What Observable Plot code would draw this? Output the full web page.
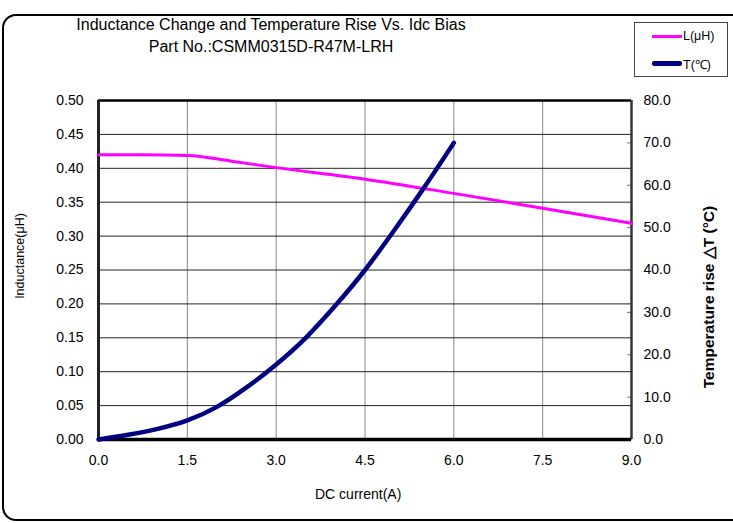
<!DOCTYPE html>
<html>
<head>
<meta charset="utf-8">
<script src="https://cdn.jsdelivr.net/npm/d3@7"></script>
<script src="https://cdn.jsdelivr.net/npm/@observablehq/plot@0.6"></script>
<style>
  html, body { margin: 0; padding: 0; background: #fff; }
  #wrap { position: relative; width: 733px; height: 523px; overflow: hidden; font-family: "Liberation Sans", Arial, sans-serif; color: #000; }
  #frame { position: absolute; left: 2px; top: 14px; width: 780px; height: 507px; box-sizing: border-box; border: 2.5px solid #000; border-radius: 14px; pointer-events: none; }
  #title { position: absolute; left: 71px; top: 14px; width: 400px; text-align: center; font-size: 16px; line-height: 22px; }
  #legend { position: absolute; left: 634px; top: 22px; width: 94px; height: 55px; box-sizing: border-box; border: 1px solid #444; background: #fff; font-size: 12.5px; }
  .lg { position: absolute; left: 17px; width: 30px; }
  .lt { position: absolute; left: 48px; }
  .ylab { position: absolute; white-space: nowrap; transform-origin: center center; }
  #plot { position: absolute; left: 0; top: 0; }
</style>
</head>
<body>
<div id="wrap">
  <div id="plot"></div>
  <div id="frame"></div>
  <div id="title">Inductance Change and Temperature Rise Vs. Idc Bias<br>Part No.:CSMM0315D-R47M-LRH</div>
  <div id="legend">
    <div class="lg" style="top:12px;height:3px;background:#FF00FF"></div>
    <div class="lt" style="top:6px">L(μH)</div>
    <div class="lg" style="top:38px;height:4.5px;background:#000080;border-radius:2px"></div>
    <div class="lt" style="top:33px">T(℃)</div>
  </div>
  <div class="ylab" id="ylabL" style="font-size:12.5px">Inductance(μH)</div>
  <div class="ylab" id="ylabR" style="font-size:15.5px;font-weight:bold">Temperature rise △T (°C)</div>
  <div class="ylab" id="xlab" style="font-size:14px">DC current(A)</div>
</div>
<script>
// Data
const currentL = [0, 0.75, 1.5, 2.25, 3.0, 4.5, 6.0, 7.5, 9.0];
const inductance = [0.420, 0.420, 0.419, 0.4105, 0.401, 0.384, 0.363, 0.341, 0.319];
const currentT = [0, 0.5, 1.0, 1.5, 2.0, 2.5, 3.0, 3.5, 4.0, 4.5, 5.0, 5.5, 6.0];
const tempRise = [0, 1.1, 2.5, 4.5, 7.7, 12.3, 17.7, 24.0, 31.6, 40.0, 49.5, 59.5, 70.0];
const xTicks = [0, 1.5, 3.0, 4.5, 6.0, 7.5, 9.0];
const yTicksL = [0, 0.05, 0.10, 0.15, 0.20, 0.25, 0.30, 0.35, 0.40, 0.45, 0.50];
const yTicksR = [0, 10, 20, 30, 40, 50, 60, 70, 80];
const tMax = 80, lMax = 0.5;

const toL = t => t / tMax * lMax;
const lData = currentL.map((x, i) => ({x, y: inductance[i]}));
const tData = currentT.map((x, i) => ({x, y: toL(tempRise[i])}));

const W = 733, H = 523, mL = 98, mR = 102, mT = 100, mB = 84;

const chart = Plot.plot({
  width: W, height: H,
  marginLeft: mL, marginRight: mR, marginTop: mT, marginBottom: mB,
  style: {fontFamily: '"Liberation Sans", Arial, sans-serif', fontSize: "14px", color: "#000", background: "transparent", overflow: "visible"},
  x: {domain: [0, 9]},
  y: {domain: [0, 0.5]},
  marks: [
    Plot.ruleX(xTicks.slice(1, -1), {stroke: "#888", strokeWidth: 1}),
    Plot.ruleY(yTicksL.slice(1, -1), {stroke: "#222", strokeWidth: 1}),
    Plot.axisX({ticks: xTicks, tickSize: 0, tickPadding: 16, tickFormat: d3.format(".1f"), label: null, fontSize: 14}),
    Plot.axisY({anchor: "left", ticks: yTicksL, tickSize: 0, tickPadding: 15, tickFormat: d3.format(".2f"), label: null, fontSize: 14}),
    Plot.axisY({anchor: "right", ticks: yTicksR.map(toL), tickSize: -5, tickPadding: 17, stroke: "#777",
      tickFormat: d => d3.format(".1f")(d / lMax * tMax), label: null, fontSize: 14, textAnchor: "start"}),
    Plot.ruleY([0.5], {stroke: "#000", strokeWidth: 2.5}),
    Plot.ruleX([9], {stroke: "#333", strokeWidth: 2.5}),
    Plot.ruleX([0], {stroke: "#222", strokeWidth: 3}),
    Plot.ruleY([0], {stroke: "#000", strokeWidth: 3.5}),
    Plot.line(lData, {x: "x", y: "y", stroke: "#FF00FF", strokeWidth: 3, curve: "monotone-x"}),
    Plot.line(tData, {x: "x", y: "y", stroke: "#000080", strokeWidth: 4.5, curve: "monotone-x"})
  ]
});
document.getElementById("plot").appendChild(chart);

// Position axis titles
function place(id, cx, cy, rot) {
  const el = document.getElementById(id);
  const w = el.offsetWidth, h = el.offsetHeight;
  el.style.left = (cx - w / 2) + "px";
  el.style.top = (cy - h / 2) + "px";
  if (rot) el.style.transform = "rotate(" + rot + "deg)";
}
place("ylabL", 20, 256, -90);
place("ylabR", 709, 297, -90);
place("xlab", 358, 494, 0);
</script>
</body>
</html>
